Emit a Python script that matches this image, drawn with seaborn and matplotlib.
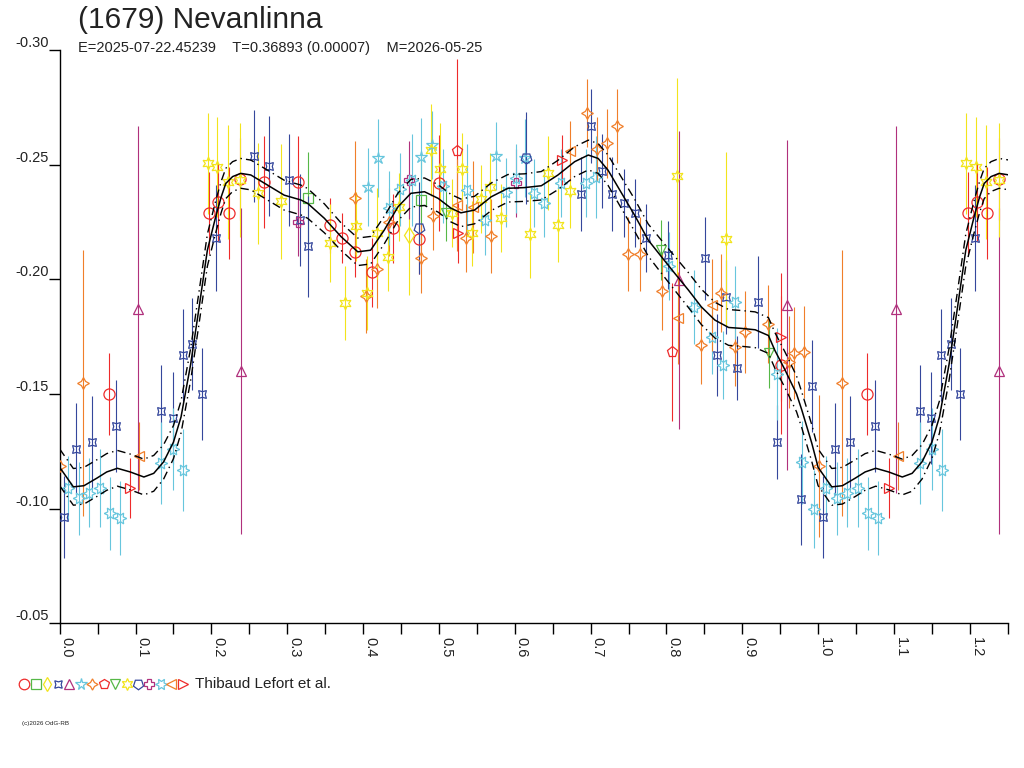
import numpy as np
import pandas as pd
import seaborn as sns
import matplotlib.pyplot as plt

# series colours / markers in legend order
red, green, yellow, blue = '#ee2b2b', '#56b847', '#f2e41c', '#35479c'
purple, cyan, orange = '#b0307c', '#67c6dd', '#f07f2a'
colors = [red, green, yellow, blue, purple, cyan, orange, red, green, yellow,
          blue, purple, cyan, orange, red]
markers = ['o', 's', 'd', (4, 1, 45), '^', '*', (4, 1, 0), 'p', 'v', (6, 1, 0),
           (5, 0, 180), 'P', (6, 1, 30), '<', '>']
msizes = [8, 7, 8, 8, 7.5, 9, 8.5, 8, 7.5, 9, 8, 7, 9, 7.5, 7.5]

# (phase, mag, err) per series
s00 = [(0.065, -0.150, 0.018), (0.197, -0.229, 0.018), (0.209, -0.2337, 0.017),
       (0.223, -0.229, 0.020), (0.238, -0.2437, 0.018), (0.270, -0.2424, 0.020),
       (0.3136, -0.2424, 0.020), (0.357, -0.2236, 0.012), (0.372, -0.218, 0.011),
       (0.389, -0.2119, 0.011), (0.412, -0.2031, 0.015), (0.440, -0.2223, 0.015),
       (0.474, -0.2175, 0.015), (0.500, -0.242, 0.021), (0.951, -0.1626, 0.030)]
s01 = [(0.328, -0.2354, 0.020), (0.476, -0.2346, 0.020)]
s02 = [(0.460, -0.2193, 0.026)]
s03 = [(0.006, -0.0963, 0.018), (0.022, -0.126, 0.020), (0.042, -0.129, 0.020),
       (0.0745, -0.136, 0.020), (0.134, -0.1425, 0.020), (0.149, -0.1394, 0.020),
       (0.1625, -0.167, 0.020), (0.175, -0.1717, 0.020), (0.1876, -0.150, 0.020),
       (0.2066, -0.218, 0.023), (0.2567, -0.2537, 0.020), (0.276, -0.2494, 0.022),
       (0.302, -0.2433, 0.020), (0.317, -0.2258, 0.020), (0.328, -0.2145, 0.022),
       (0.687, -0.2372, 0.016), (0.700, -0.2668, 0.016), (0.715, -0.2472, 0.016),
       (0.7288, -0.2372, 0.016), (0.744, -0.2333, 0.015), (0.7584, -0.2289, 0.015),
       (0.773, -0.218, 0.015), (0.8025, -0.2106, 0.015), (0.8507, -0.2092, 0.018),
       (0.867, -0.167, 0.018), (0.879, -0.1923, 0.016), (0.8926, -0.1613, 0.014),
       (0.921, -0.190, 0.020), (0.946, -0.129, 0.016), (0.9775, -0.104, 0.020),
       (0.9920, -0.1534, 0.020)]
s04 = [(0.103, -0.187, 0.080), (0.239, -0.160, 0.071), (0.8164, -0.1997, 0.065),
       (0.9596, -0.1888, 0.072)]
s05 = [(0.407, -0.2402, 0.017), (0.420, -0.2529, 0.017), (0.4765, -0.2533, 0.017),
       (0.491, -0.2586, 0.015), (0.5756, -0.2538, 0.015), (0.613, -0.2529, 0.017)]
s06 = [(0.001, -0.1185, 0.031), (0.031, -0.155, 0.058), (0.390, -0.2354, 0.025),
       (0.404, -0.1927, 0.016), (0.419, -0.2045, 0.017), (0.434, -0.225, 0.015),
       (0.4765, -0.2092, 0.015), (0.492, -0.2276, 0.015), (0.536, -0.218, 0.015),
       (0.569, -0.2189, 0.016), (0.6958, -0.2725, 0.015), (0.709, -0.2568, 0.014),
       (0.722, -0.2594, 0.015), (0.735, -0.2668, 0.016), (0.7487, -0.211, 0.016),
       (0.7658, -0.211, 0.016), (0.7935, -0.1949, 0.017), (0.8455, -0.1713, 0.017),
       (0.872, -0.194, 0.017), (0.891, -0.1704, 0.017), (0.904, -0.177, 0.018),
       (0.9345, -0.1805, 0.017), (0.961, -0.164, 0.020), (0.968, -0.1678, 0.020),
       (0.981, -0.1683, 0.020)]
s07 = [(0.5236, -0.256, 0.040), (0.808, -0.1683, 0.030)]
s08 = [(0.5095, -0.2289, 0.012), (0.7926, -0.2127, 0.013), (0.9353, -0.1678, 0.015)]
s09 = [(0.195, -0.2507, 0.022), (0.208, -0.249, 0.022), (0.222, -0.2424, 0.025),
       (0.238, -0.2433, 0.025), (0.2616, -0.2376, 0.022), (0.2916, -0.234, 0.025),
       (0.357, -0.2158, 0.017), (0.3756, -0.1896, 0.016), (0.3906, -0.2232, 0.015),
       (0.405, -0.194, 0.016), (0.418, -0.220, 0.020), (0.4325, -0.2097, 0.015),
       (0.448, -0.2315, 0.015), (0.490, -0.2564, 0.020), (0.502, -0.248, 0.020),
       (0.5175, -0.2289, 0.015), (0.530, -0.248, 0.016), (0.544, -0.220, 0.014),
       (0.555, -0.235, 0.015), (0.5677, -0.2402, 0.015), (0.582, -0.2267, 0.015),
       (0.6205, -0.2197, 0.019), (0.644, -0.2463, 0.016), (0.657, -0.2237, 0.016),
       (0.673, -0.2385, 0.016), (0.8143, -0.245, 0.043), (0.878, -0.2176, 0.038)]
s10 = [(0.4735, -0.2223, 0.020), (0.615, -0.2529, 0.020)]
s11 = [(0.3136, -0.225, 0.015), (0.460, -0.2433, 0.017), (0.601, -0.242, 0.015)]
s12 = [(0.011, -0.109, 0.014), (0.025, -0.1045, 0.016), (0.038, -0.107, 0.015),
       (0.053, -0.109, 0.017), (0.066, -0.098, 0.016), (0.079, -0.096, 0.016),
       (0.134, -0.120, 0.018), (0.150, -0.126, 0.018), (0.163, -0.1168, 0.018),
       (0.4346, -0.2311, 0.016), (0.449, -0.2393, 0.016), (0.464, -0.2433, 0.020),
       (0.505, -0.2407, 0.016), (0.537, -0.2389, 0.020), (0.561, -0.2258, 0.015),
       (0.589, -0.238, 0.015), (0.601, -0.2441, 0.015), (0.6254, -0.2376, 0.015),
       (0.638, -0.2333, 0.015), (0.6614, -0.242, 0.015), (0.6935, -0.242, 0.015),
       (0.707, -0.2446, 0.018), (0.8037, -0.2058, 0.015), (0.8367, -0.1879, 0.016),
       (0.8596, -0.1748, 0.016), (0.874, -0.1626, 0.015), (0.890, -0.190, 0.016),
       (0.946, -0.1587, 0.020), (0.9785, -0.1202, 0.018), (0.995, -0.0997, 0.017)]
s13 = [(0.105, -0.123, 0.015), (0.524, -0.2324, 0.020), (0.5448, -0.2315, 0.020),
       (0.6727, -0.256, 0.013), (0.8147, -0.1831, 0.020), (0.8596, -0.1888, 0.020)]
s14 = [(0.093, -0.109, 0.013), (0.525, -0.2202, 0.013), (0.6623, -0.252, 0.011),
       (0.951, -0.1748, 0.028)]
series = [s00, s01, s02, s03, s04, s05, s06, s07, s08, s09, s10, s11, s12, s13, s14]

# fitted curve (phase, mag) and half width of the dash-dot band
curve_ph = [0.000, 0.018, 0.032, 0.049, 0.062, 0.076, 0.093, 0.111, 0.124, 0.137,
            0.150, 0.160, 0.1727, 0.183, 0.1947, 0.2057, 0.213, 0.219, 0.228, 0.2387,
            0.252, 0.274, 0.296, 0.318, 0.327, 0.349, 0.371, 0.393, 0.410, 0.428,
            0.446, 0.463, 0.481, 0.499, 0.516, 0.529, 0.547, 0.569, 0.591, 0.613,
            0.635, 0.657, 0.679, 0.697, 0.710, 0.723, 0.741, 0.758, 0.776, 0.7935,
            0.811, 0.829, 0.846, 0.864, 0.882, 0.899, 0.917, 0.9345, 0.943, 0.9565,
            0.9716, 0.9785, 0.9917, 1.000]
curve_mag = [-0.118, -0.1095, -0.110, -0.1133, -0.116, -0.1176, -0.116, -0.1138, -0.1154, -0.1204,
             -0.129, -0.140, -0.163, -0.186, -0.2127, -0.2273, -0.236, -0.2418, -0.2448, -0.2462,
             -0.2455, -0.2411, -0.2367, -0.2346, -0.2331, -0.2266, -0.2186, -0.212, -0.2127, -0.2215,
             -0.2316, -0.2375, -0.2382, -0.2353, -0.231, -0.229, -0.2302, -0.236, -0.2397, -0.240,
             -0.2408, -0.2455, -0.2513, -0.2542, -0.2527, -0.2476, -0.2375, -0.228, -0.2171, -0.2098,
             -0.2026, -0.1953, -0.188, -0.1822, -0.179, -0.1786, -0.178, -0.1755, -0.169, -0.1604,
             -0.150, -0.143, -0.1285, -0.118]
curve_band = [0.008, 0.008, 0.008, 0.008, 0.008, 0.0078, 0.0078, 0.0078, 0.0078, 0.0075,
              0.0072, 0.007, 0.007, 0.007, 0.007, 0.007, 0.0068, 0.0066, 0.0065, 0.0065,
              0.0065, 0.0065, 0.0065, 0.0065, 0.0065, 0.0063, 0.006, 0.006, 0.006, 0.006,
              0.006, 0.006, 0.006, 0.006, 0.006, 0.006, 0.006, 0.006, 0.006, 0.006,
              0.0062, 0.0064, 0.0065, 0.0065, 0.0065, 0.0066, 0.0068, 0.007, 0.007, 0.0072,
              0.0074, 0.0076, 0.0077, 0.0078, 0.0078, 0.0078, 0.0078, 0.0078, 0.0078, 0.0078,
              0.0078, 0.0078, 0.008, 0.008]

# build tables, repeating phase 0-0.25 after 1.0
rows = []
for k, s in enumerate(series):
    for p, m, e in s:
        rows.append((p, m, e, k))
        if p <= 0.252:
            rows.append((p + 1, m, e, k))
pts = pd.DataFrame(rows, columns=['phase', 'mag', 'err', 'series'])

cv = pd.DataFrame({'phase': curve_ph, 'mag': curve_mag, 'band': curve_band})
cv = pd.concat([cv, cv[cv.phase <= 0.26].assign(phase=lambda d: d.phase + 1)[1:]])
cv = cv.drop_duplicates('phase').sort_values('phase')
cv['upper'] = cv['mag'] - cv['band']
cv['lower'] = cv['mag'] + cv['band']

sns.set_style('white')
plt.rcParams['font.family'] = ['Liberation Sans', 'DejaVu Sans']

fig = plt.figure(figsize=(10.24, 7.68), dpi=100)
ax = fig.add_axes([0.0583, 0.1884, 0.9258, 0.7465])

for k in range(len(series)):
    d = pts[pts.series == k]
    ax.vlines(d.phase, d.mag - d.err, d.mag + d.err, color=colors[k], lw=0.8, zorder=2)
    ax.plot(d.phase, d.mag, ls='none', marker=markers[k], ms=msizes[k],
            mfc='none', mec=colors[k], mew=0.9, zorder=3)

sns.lineplot(data=cv, x='phase', y='mag', sort=False, estimator=None, ax=ax,
             color='black', lw=1.1, zorder=4)
sns.lineplot(data=cv, x='phase', y='upper', sort=False, estimator=None, ax=ax,
             color='black', lw=1.0, ls=(0, (6, 3, 1, 3)), zorder=4)
sns.lineplot(data=cv, x='phase', y='lower', sort=False, estimator=None, ax=ax,
             color='black', lw=1.0, ls=(0, (6, 3, 1, 3)), zorder=4)

ax.set_xlim(0, 1.25)
ax.set_ylim(-0.05, -0.30)
ax.set_xlabel('')
ax.set_ylabel('')
sns.despine(ax=ax)
for sp in ['left', 'bottom']:
    ax.spines[sp].set_color('black')
    ax.spines[sp].set_linewidth(1.0)

ax.set_xticks(np.arange(0, 1.21, 0.1))
ax.set_xticks(np.arange(0.05, 1.26, 0.1), minor=True)
ax.set_xticklabels([f'{v:.1f}' for v in np.arange(0, 1.21, 0.1)], rotation=270,
                   ha='left', va='top', fontsize=10.5, color='#222222')
ax.set_yticks([-0.30, -0.25, -0.20, -0.15, -0.10, -0.05])
ax.set_yticklabels(['-0.30', '-0.25', '-0.20', '-0.15', '-0.10', '-0.05'],
                   fontsize=10.5, color='#222222')
for lb in ax.get_yticklabels():
    lb.set_va('bottom')
ax.tick_params(axis='both', which='both', direction='out', length=8, width=1,
               color='black', left=True, bottom=True)
ax.tick_params(axis='y', pad=0)
ax.tick_params(axis='x', pad=1.5)

fig.text(0.0762, 1 - 20 / 768, '(1679) Nevanlinna', fontsize=21.5, va='center',
         ha='left', color='#222222')
fig.text(0.0762, 1 - 48 / 768, 'E=2025-07-22.45239    T=0.36893 (0.00007)    M=2026-05-25',
         fontsize=10.5, va='center', ha='left', color='#222222')

# legend row
leg_x = [24.3, 36, 47.3, 58.3, 69, 80.7, 92.3, 104, 115, 127.3, 138.3, 149.3, 160.7, 171, 182.7]
for k, xp in enumerate(leg_x):
    ax.plot([xp / 1024], [1 - 683.7 / 768], marker=markers[k], ms=msizes[k] * 0.95,
            mfc='none', mec=colors[k], mew=0.9, ls='none',
            transform=fig.transFigure, clip_on=False)
fig.text(195 / 1024, 1 - 684 / 768, 'Thibaud Lefort et al.', fontsize=11,
         va='center', ha='left', color='#222222')
fig.text(22 / 1024, 1 - 724 / 768, '(c)2026 OdG-RB', fontsize=4.5,
         va='center', ha='left', color='#222222')

fig.savefig('out.png', dpi=100)
